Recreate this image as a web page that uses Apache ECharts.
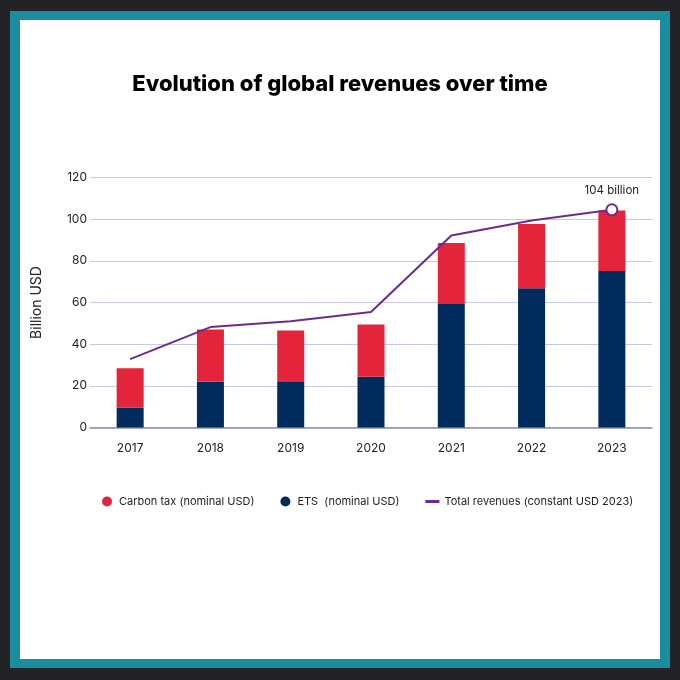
<!DOCTYPE html>
<html>
<head>
<meta charset="utf-8">
<title>Evolution of global revenues over time</title>
<script src="https://cdn.jsdelivr.net/npm/echarts@6/dist/echarts.min.js"></script>
<style>
	html, body { margin: 0; padding: 0; width: 680px; height: 680px; background: #232226; overflow: hidden; }
	#frame { position: absolute; left: 10px; top: 11px; width: 660px; height: 657px; background: #1a8e9e; }
	#paper { position: absolute; left: 20px; top: 20px; width: 640px; height: 639px; background: #ffffff; }
	#main { position: absolute; left: 0; top: 0; width: 680px; height: 680px; }
</style>
</head>
<body>
<div id="frame"></div>
<div id="paper"></div>
<div id="main"></div>
<script>
// 数据
var years = ['2017', '2018', '2019', '2020', '2021', '2022', '2023'];
var etsValues = [9.5, 22, 21.8, 24.4, 59.3, 66.8, 75.1];
var carbonTaxValues = [19, 25, 24.8, 25, 29.3, 30.9, 29.1];
var totalConstant = [32.8, 48.2, 51, 55.4, 92.2, 99.4, 104.5];
var lastLabel = '104 billion';

var RED = '#e4243a';
var NAVY = '#002b5c';
var PURPLE = '#6b2c8f';

var chart = echarts.init(document.getElementById('main'));

// 折线数据，只有最后一个点带标记
var lineData = totalConstant.map(function(v, i) {
	if (i == totalConstant.length - 1) {
		return {
			value : v,
			symbol : 'circle',
			symbolSize : 11,
			itemStyle : { color : '#ffffff', borderColor : PURPLE, borderWidth : 2 },
			label : {
				show : true,
				position : 'top',
				distance : 7,
				formatter : lastLabel,
				color : '#222',
				fontSize : 11.5,
				fontFamily : 'Inter'
			}
		};
	}
	return { value : v, symbol : 'none' };
});

var option = {
	animation : false,
	textStyle : { fontFamily : 'Inter' },
	title : {
		text : 'Evolution of global revenues over time',
		left : 'center',
		top : 68,
		textStyle : { fontFamily : 'Inter', fontWeight : 800, fontSize : 22, color : '#000' }
	},
	legend : {
		left : 97,
		top : 491,
		itemWidth : 14,
		itemHeight : 10,
		itemGap : 26,
		textStyle : { fontSize : 11, color : '#222', fontFamily : 'Inter' },
		data : [
			{ name : 'Carbon tax (nominal USD)', icon : 'circle' },
			{ name : 'ETS  (nominal USD)', icon : 'circle' },
			{ name : 'Total revenues (constant USD 2023)', icon : 'path://M0,0 L14,0 L14,3 L0,3 Z' }
		]
	},
	grid : { left : 90, right : 28, top : 177.5, bottom : 252.5 },
	xAxis : {
		type : 'category',
		data : years,
		axisTick : { show : false },
		axisLine : { lineStyle : { color : '#8c90a8', width : 1.5 } },
		axisLabel : { color : '#222', fontSize : 12, margin : 15 }
	},
	yAxis : {
		type : 'value',
		min : 0,
		max : 120,
		interval : 20,
		name : 'Billion USD',
		nameLocation : 'middle',
		nameGap : 46,
		nameTextStyle : { fontSize : 14, color : '#222' },
		axisLabel : { color : '#222', fontSize : 12, margin : 3 },
		splitLine : { lineStyle : { color : '#c6c9dc', width : 1 } }
	},
	series : [{
		name : 'ETS  (nominal USD)',
		type : 'bar',
		stack : 'rev',
		barWidth : 27,
		itemStyle : { color : NAVY },
		data : etsValues
	}, {
		name : 'Carbon tax (nominal USD)',
		type : 'bar',
		stack : 'rev',
		barWidth : 27,
		itemStyle : { color : RED },
		data : carbonTaxValues
	}, {
		name : 'Total revenues (constant USD 2023)',
		type : 'line',
		z : 5,
		symbol : 'none',
		showSymbol : true,
		lineStyle : { color : PURPLE, width : 2 },
		itemStyle : { color : PURPLE },
		data : lineData
	}]
};

chart.setOption(option);
</script>
</body>
</html>
